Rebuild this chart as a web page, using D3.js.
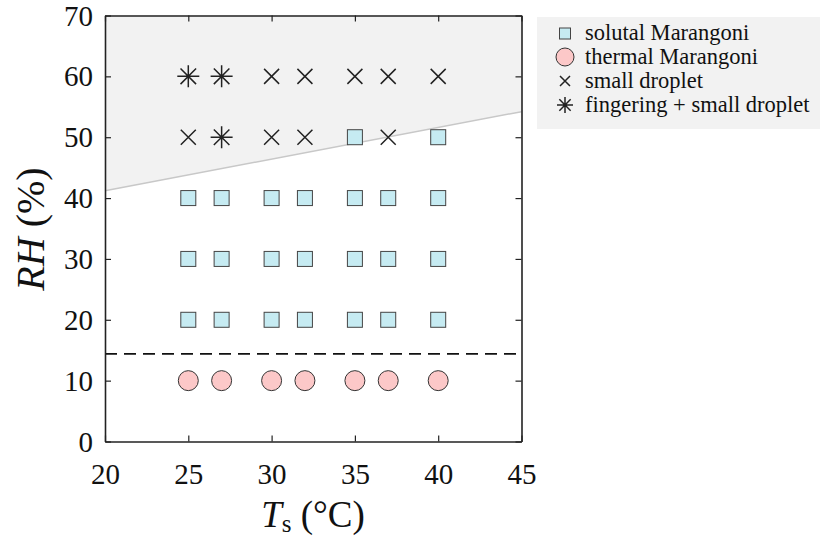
<!DOCTYPE html>
<html><head><meta charset="utf-8">
<script src="https://cdn.jsdelivr.net/npm/d3@7/dist/d3.min.js"></script>
<style>body{margin:0;background:#fff;}svg{display:block;}</style>
</head><body>
<script>
const xTicks = [20, 25, 30, 35, 40, 45];
const yTicks = [0, 10, 20, 30, 40, 50, 60, 70];
const solutal = [[25,20],[27,20],[30,20],[32,20],[35,20],[37,20],[40,20],
                 [25,30],[27,30],[30,30],[32,30],[35,30],[37,30],[40,30],
                 [25,40],[27,40],[30,40],[32,40],[35,40],[37,40],[40,40],
                 [35,50],[40,50]];
const thermal = [[25,10],[27,10],[30,10],[32,10],[35,10],[37,10],[40,10]];
const smallDroplet = [[30,60],[32,60],[35,60],[37,60],[40,60],[25,50],[30,50],[32,50],[37,50]];
const fingering = [[25,60],[27,60],[27,50]];
const boundary = [[20,41.2],[45,54.2]];
const dashedRH = 14.4;
const legendLabels = ["solutal Marangoni","thermal Marangoni","small droplet","fingering + small droplet"];

const W=820,H=537;
const svg=d3.select("body").append("svg").attr("width",W).attr("height",H);
const x=d3.scaleLinear().domain([20,45]).range([105,521.5]);
const y=d3.scaleLinear().domain([0,70]).range([441.5,15.5]);
const serif="'Liberation Serif','Times New Roman',serif";

// gray region
svg.append("path").attr("d",d3.line()([[x(20),y(70)],[x(45),y(70)],[x(45),y(boundary[1][1])],[x(20),y(boundary[0][1])]])+"Z")
  .attr("fill","#f2f2f2");
svg.append("line").attr("x1",x(boundary[0][0])).attr("y1",y(boundary[0][1]))
  .attr("x2",x(boundary[1][0])).attr("y2",y(boundary[1][1]))
  .attr("stroke","#c8c8c8").attr("stroke-width",1.5);
// dashed
svg.append("line").attr("x1",x(20)).attr("x2",x(45)).attr("y1",y(dashedRH)).attr("y2",y(dashedRH))
  .attr("stroke","#111").attr("stroke-width",1.6).attr("stroke-dasharray","12,7");

// axes
const tl=6;
const gx=svg.append("g").attr("transform",`translate(0,${y(0)})`)
  .call(d3.axisBottom(x).tickValues(xTicks).tickSizeInner(-tl).tickSizeOuter(0).tickPadding(22));
const gxt=svg.append("g").attr("transform",`translate(0,${y(70)})`)
  .call(d3.axisTop(x).tickValues(xTicks).tickSizeInner(-tl).tickSizeOuter(0).tickFormat(""));
const gy=svg.append("g").attr("transform",`translate(${x(20)},0)`)
  .call(d3.axisLeft(y).tickValues(yTicks).tickSizeInner(-tl).tickSizeOuter(0).tickPadding(12));
const gyr=svg.append("g").attr("transform",`translate(${x(45)},0)`)
  .call(d3.axisRight(y).tickValues(yTicks).tickSizeInner(-tl).tickSizeOuter(0).tickFormat(""));
[gx,gxt,gy,gyr].forEach(g=>{
  g.attr("font-family",null).attr("font-size",null);
  g.select(".domain").attr("stroke","#222").attr("stroke-width",1.6);
  g.selectAll(".tick line").attr("stroke","#222").attr("stroke-width",1.2);
  g.selectAll("text").style("font-family",serif).style("font-size","29px").attr("fill","#111");
});
gx.selectAll("text").attr("dy","0.71em");
gy.selectAll("text").attr("dy","0.33em");

// markers
const sq=15;
svg.append("g").selectAll("rect").data(solutal).join("rect")
  .attr("x",d=>x(d[0])-sq/2).attr("y",d=>y(d[1])-sq/2).attr("width",sq).attr("height",sq)
  .attr("fill","#c6ebf2").attr("stroke","#444").attr("stroke-width",1);
svg.append("g").selectAll("circle").data(thermal).join("circle")
  .attr("cx",d=>x(d[0])).attr("cy",d=>y(d[1])).attr("r",10)
  .attr("fill","#fcc8c8").attr("stroke","#333").attr("stroke-width",1);
function cross(g,cx,cy,s){
  g.append("path").attr("d",`M${cx-s},${cy-s}L${cx+s},${cy+s}M${cx-s},${cy+s}L${cx+s},${cy-s}`)
   .attr("stroke","#222").attr("stroke-width",1.5).attr("fill","none");
}
function star(g,cx,cy,s){
  const d=s*0.707;
  g.append("path").attr("d",`M${cx-s},${cy}L${cx+s},${cy}M${cx},${cy-s}L${cx},${cy+s}M${cx-d},${cy-d}L${cx+d},${cy+d}M${cx-d},${cy+d}L${cx+d},${cy-d}`)
   .attr("stroke","#222").attr("stroke-width",1.5).attr("fill","none");
}
const mg=svg.append("g");
smallDroplet.forEach(d=>cross(mg,x(d[0]),y(d[1]),7.5));
fingering.forEach(d=>star(mg,x(d[0]),y(d[1]),11));

// axis labels
const yl=svg.append("text").attr("transform",`translate(44,229) rotate(-90)`)
  .attr("text-anchor","middle").style("font-family",serif).style("font-size","40px").attr("fill","#111");
yl.append("tspan").attr("font-style","italic").text("RH");
yl.append("tspan").text(" (%)");
const xl=svg.append("text").attr("x",313).attr("y",527)
  .attr("text-anchor","middle").style("font-family",serif).style("font-size","37px").attr("fill","#111");
xl.append("tspan").attr("font-style","italic").text("T");
xl.append("tspan").style("font-size","25px").attr("dy",5).text("s");
xl.append("tspan").attr("dy",-5).text(" (°C)");

// legend
const lg=svg.append("g");
lg.append("rect").attr("x",537).attr("y",17).attr("width",283).attr("height",112).attr("fill","#f2f2f2");
const ly=[40,64,88,112];
const lx=565;
lg.append("rect").attr("x",lx-5.5).attr("y",ly[0]-12).attr("width",11).attr("height",11)
  .attr("fill","#c6ebf2").attr("stroke","#444").attr("stroke-width",1);
lg.append("circle").attr("cx",lx).attr("cy",ly[1]-7).attr("r",9)
  .attr("fill","#fcc8c8").attr("stroke","#333").attr("stroke-width",1);
cross(lg,lx,ly[2]-7,5);
star(lg,lx,ly[3]-7,8);
lg.selectAll("text.l").data(legendLabels).join("text").attr("class","l")
  .attr("x",585).attr("y",(d,i)=>ly[i])
  .style("font-family",serif).style("font-size","22.5px").attr("fill","#111").text(d=>d);
</script>
</body></html>
